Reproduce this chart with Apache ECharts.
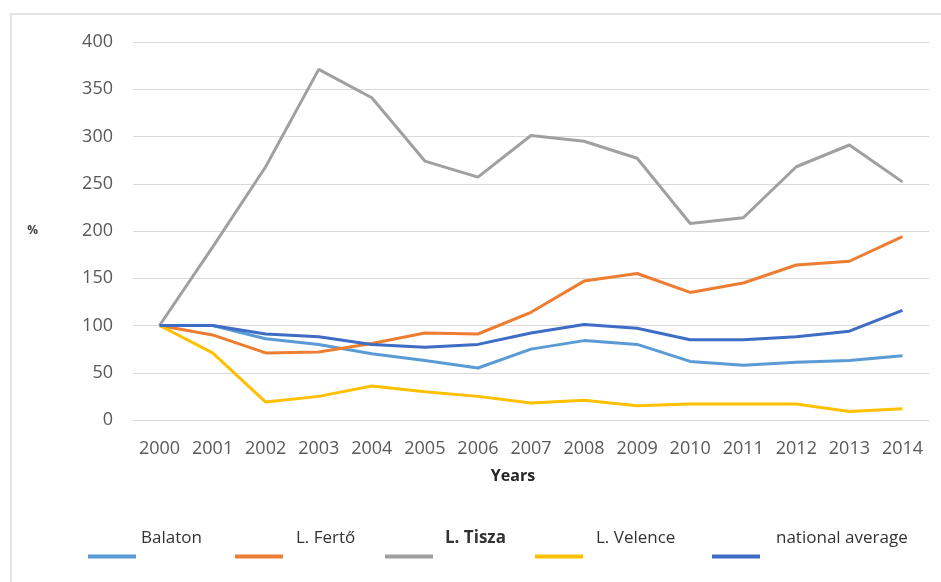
<!DOCTYPE html>
<html>
<head>
<meta charset="utf-8">
<script src="https://cdn.jsdelivr.net/npm/echarts@6/dist/echarts.min.js"></script>
<style>
  html, body { margin: 0; padding: 0; background: #fff; }
  #frame { position: absolute; left: 10px; top: 13px; width: 940px; height: 580px;
           border-left: 2px solid #e3e3e3; border-top: 2px solid #e3e3e3; }
  #chart { position: absolute; left: 0; top: 0; width: 941px; height: 582px; }
</style>
</head>
<body>
<div id="frame"></div>
<div id="chart"></div>
<script>
// years on the x axis
var years = ['2000', '2001', '2002', '2003', '2004', '2005', '2006', '2007',
  '2008', '2009', '2010', '2011', '2012', '2013', '2014'];

// values in % (2000 = 100)
var balaton = [100, 100, 86, 80, 70, 63, 55, 75, 84, 80, 62, 58, 61, 63, 68];
var ferto = [100, 90, 71, 72, 81, 92, 91, 114, 147, 155, 135, 145, 164, 168, 194];
var tisza = [100, 183, 268, 371, 341, 274, 257, 301, 295, 277, 208, 214, 268, 291, 252];
var velence = [100, 71, 19, 25, 36, 30, 25, 18, 21, 15, 17, 17, 17, 9, 12];
var nationalAvg = [100, 100, 91, 88, 80, 77, 80, 92, 101, 97, 85, 85, 88, 94, 116];

var seriesNames = ['Balaton', 'L. Fertő', 'L. Tisza', 'L. Velence', 'national average'];
var seriesColors = ['#5B9BD5', '#ED7D31', '#A0A0A0', '#FFC000', '#3F6CC4'];
var seriesData = [balaton, ferto, tisza, velence, nationalAvg];

var chart = echarts.init(document.getElementById('chart'));

// each legend entry placed on its own, text sits above the line like in the Excel original
var legendLeft = [83, 230, 380, 530, 707];
var textShift = [0, 8, 7, 8, 11];
var legends = seriesNames.map(function (name, i) {
  return {
    data: [{ name: name, itemStyle: { color: seriesColors[i] } }],
    left: legendLeft[i],
    top: 525,
    itemWidth: 48,
    itemHeight: 4,
    itemGap: 0,
    icon: 'rect',
    formatter: '{t|{name}}',
    textStyle: {
      rich: {
        t: {
          fontFamily: 'Open Sans',
          fontSize: 17,
          lineHeight: 24,
          color: '#333333',
          fontWeight: name === 'L. Tisza' ? 'bold' : 'normal',
          padding: [0, 0, 36, textShift[i]]
        }
      }
    }
  };
});

var option = {
  animation: false,
  textStyle: { fontFamily: 'Open Sans' },
  legend: legends,
  grid: {
    left: 133,
    right: 12,
    top: 42,
    bottom: 162
  },
  xAxis: {
    type: 'category',
    data: years,
    boundaryGap: true,
    name: 'Years',
    nameLocation: 'middle',
    nameGap: 48,
    nameTextStyle: {
      fontFamily: 'Open Sans',
      fontSize: 16,
      fontWeight: 'bold',
      color: '#262626',
      padding: [0, 36, 0, 0]
    },
    axisLine: { show: true, lineStyle: { color: '#d9d9d9', width: 1 } },
    axisTick: { show: false },
    axisLabel: {
      color: '#595959',
      fontSize: 18,
      margin: 20,
      interval: 0
    }
  },
  yAxis: {
    type: 'value',
    min: 0,
    max: 400,
    interval: 50,
    name: '%',
    nameLocation: 'middle',
    nameRotate: 0,
    nameGap: 95,
    nameTextStyle: {
      fontSize: 12,
      fontWeight: 'bold',
      color: '#404040'
    },
    axisLine: { show: false },
    axisTick: { show: false },
    axisLabel: {
      color: '#595959',
      fontSize: 18,
      margin: 20
    },
    splitLine: { lineStyle: { color: '#d9d9d9', width: 1 } }
  },
  series: seriesNames.map(function (name, i) {
    return {
      name: name,
      type: 'line',
      data: seriesData[i],
      symbol: 'none',
      color: seriesColors[i],
      lineStyle: { width: 3, color: seriesColors[i] }
    };
  })
};

chart.setOption(option);
</script>
</body>
</html>
